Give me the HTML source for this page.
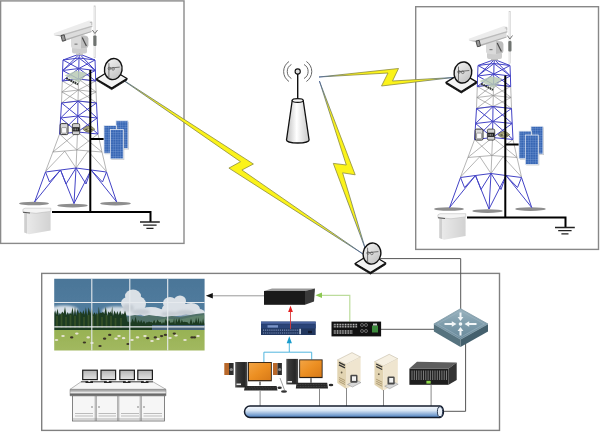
<!DOCTYPE html>
<html><head><meta charset="utf-8">
<style>
html,body{margin:0;padding:0;background:#fff;width:600px;height:432px;overflow:hidden;font-family:"Liberation Sans",sans-serif;}
svg{display:block;position:absolute;left:0;top:0;}
</style></head>
<body>
<svg width="600" height="432" viewBox="0 0 600 432">
<defs>
  <linearGradient id="sky" x1="0" y1="0" x2="0" y2="1">
    <stop offset="0" stop-color="#4a7597"/><stop offset="0.5" stop-color="#527d9f"/><stop offset="1" stop-color="#7496b2"/>
  </linearGradient>
  <linearGradient id="grass" x1="0" y1="0" x2="0" y2="1">
    <stop offset="0" stop-color="#98b254"/><stop offset="1" stop-color="#a4ba62"/>
  </linearGradient>
  <linearGradient id="bus" x1="0" y1="0" x2="0" y2="1">
    <stop offset="0" stop-color="#f8fbff"/><stop offset="0.4" stop-color="#d6e4f3"/><stop offset="1" stop-color="#4a7ebf"/>
  </linearGradient>
  <linearGradient id="cone" x1="0" y1="0" x2="1" y2="0">
    <stop offset="0" stop-color="#bdbdbd"/><stop offset="0.45" stop-color="#ffffff"/><stop offset="1" stop-color="#c8c8c8"/>
  </linearGradient>
  <linearGradient id="swtop" x1="0" y1="0" x2="0" y2="1">
    <stop offset="0" stop-color="#98b2be"/><stop offset="1" stop-color="#66889a"/>
  </linearGradient>
  <linearGradient id="dishg" x1="0" y1="0" x2="1" y2="1">
    <stop offset="0" stop-color="#f6f6f6"/><stop offset="1" stop-color="#bcbcbc"/>
  </linearGradient>
  <linearGradient id="cab" x1="0" y1="0" x2="1" y2="0">
    <stop offset="0" stop-color="#ececec"/><stop offset="1" stop-color="#d2d2d2"/>
  </linearGradient>
  <pattern id="solar" width="2.4" height="2.4" patternUnits="userSpaceOnUse">
    <rect width="2.4" height="2.4" fill="#3766b4"/>
    <path d="M0 0H2.4M0 0V2.4" stroke="#88a8de" stroke-width="0.55"/>
  </pattern>
</defs>

<!-- frames -->
<rect x="0.6" y="0.9" width="183.4" height="242.5" fill="none" stroke="#8a8a8a" stroke-width="1.4"/>
<rect x="415.7" y="6.7" width="182.8" height="242.7" fill="none" stroke="#888" stroke-width="1.4"/>
<rect x="41.7" y="273.4" width="457.8" height="157" fill="none" stroke="#808080" stroke-width="1.4"/>

<g id="tower">
  <!-- foot pads -->
  <ellipse cx="34" cy="203.5" rx="15" ry="1.8" fill="#8e8e8e"/>
  <ellipse cx="72.5" cy="205.6" rx="15.3" ry="1.8" fill="#8e8e8e"/>
  <ellipse cx="115.5" cy="203.6" rx="15.4" ry="1.8" fill="#8e8e8e"/>
  <!-- lattice -->
  <path d="M62.3 81.0L78.5 79.0L95.7 81.0M61.9 92.0L78.3 90.0L96.1 92.0M61.5 103.0L78.0 101.0L96.5 103.0M62.3 81.0L61.9 92.0L61.5 103.0M78.5 79.0L78.3 90.0L78.0 101.0M95.7 81.0L96.1 92.0L96.5 103.0M62.3 81.0L78.3 90.0M78.5 79.0L61.9 92.0M78.5 79.0L96.1 92.0M95.7 81.0L78.3 90.0M61.9 92.0L78.0 101.0M78.3 90.0L61.5 103.0M78.3 90.0L96.5 103.0M96.1 92.0L78.0 101.0M52.9 152.0L76.8 150.0L102.0 152.0M59.6 134.0L52.9 152.0M77.5 132.0L76.8 150.0M98.0 134.0L102.0 152.0M59.6 134.0L76.8 150.0M77.5 132.0L52.9 152.0M77.5 132.0L102.0 152.0M98.0 134.0L76.8 150.0M52.9 152.0L45.5 171.5M76.8 150.0L76 168M102.0 152.0L106.5 171.5M64.8 151.2L45.5 171.5M64.8 151.2L76 168M88 151.2L76 168M88 151.2L106.5 171.5" fill="none" stroke="#8c8c8c" stroke-width="0.65"/>
  <path d="M63.0 60.0L79.0 58.0L95.0 60.0M62.6 70.5L78.8 68.5L95.4 70.5M62.3 81.0L78.5 79.0L95.7 81.0M63.0 60.0L62.6 70.5L62.3 81.0M79.0 58.0L78.8 68.5L78.5 79.0M95.0 60.0L95.4 70.5L95.7 81.0M63.0 60.0L78.8 68.5M79.0 58.0L62.6 70.5M79.0 58.0L95.4 70.5M95.0 60.0L78.8 68.5M62.6 70.5L78.5 79.0M78.8 68.5L62.3 81.0M78.8 68.5L95.7 81.0M95.4 70.5L78.5 79.0M61.5 103.0L78.0 101.0L96.5 103.0M60.6 118.0L77.8 116.0L97.2 118.0M59.6 134.0L77.5 132.0L98.0 134.0M61.5 103.0L60.6 118.0L59.6 134.0M78.0 101.0L77.8 116.0L77.5 132.0M96.5 103.0L97.2 118.0L98.0 134.0M61.5 103.0L77.8 116.0M78.0 101.0L60.6 118.0M78.0 101.0L97.2 118.0M96.5 103.0L77.8 116.0M60.6 118.0L77.5 132.0M77.8 116.0L59.6 134.0M77.8 116.0L98.0 134.0M97.2 118.0L77.5 132.0M63 60L79.5 54L95 60M79.5 54L79 58M79.5 54L62.8 70.5M79.5 54L95.3 70.5M45.5 172.0L60.5 170.0L76.0 168.0L91.0 170.0L106.5 172.0M45.5 172.0L34.6 202.0M60.5 170.0L34.6 202.0M60.5 170.0L74.0 203.5M76.0 168.0L74.0 203.5M91.0 170.0L74.0 203.5M91.0 170.0L116.7 202.0M106.5 172.0L116.7 202.0M45.5 172.0L49.5 182L60.5 170.0M106.5 172.0L102.5 182L91.0 170.0M60.5 170.0L66 184L76.0 168.0M91.0 170.0L86 184L76.0 168.0" fill="none" stroke="#4343c6" stroke-width="1"/>
  <!-- antenna rod -->
  <rect x="94" y="5.8" width="1.6" height="52" fill="#f6f6f6" stroke="#c8c8c8" stroke-width="0.5"/>
  <path d="M92.3 30L94.9 33.5L97.5 30" fill="none" stroke="#777" stroke-width="1"/>
  <rect x="93.3" y="35.5" width="3.2" height="10.5" rx="1" fill="#6f7370"/>
  <!-- camera pan/tilt head -->
  <path d="M72 48.5Q72 46.5 74 46.5H85Q87 46.5 87 48.5V51.5Q87 53.5 85 53.5H74Q72 53.5 72 51.5Z" fill="#cdcdcd"/>
  <path d="M76 53.5H83V55H76Z" fill="#bbb"/>
  <path d="M71 37Q71 35 73 35L81 34.4L86.5 35.8Q88.3 36.5 88.3 38.5V45.5Q88.3 47.5 86.3 48L80 49L73 48.3Q71 48 71 46Z" fill="#dadada"/>
  <path d="M81 35.5L86.5 36.2Q88.3 36.8 88.3 38.6V45.5Q88.3 47.3 86.5 47.8L81 48.6Z" fill="#bdbdbd"/>
  <path d="M82.2 37.6L86.4 46" stroke="#4a4a4a" stroke-width="1.2"/>
  <rect x="74.5" y="43.6" width="3" height="1.1" fill="#777"/>
  <!-- camera housing -->
  <path d="M60 35.5L91.5 26L91.5 32L63 41.5Z" fill="#dcdcdc"/>
  <path d="M62.5 40L91.5 31L91.5 32L63 41.5Z" fill="#b0b0b0"/>
  <path d="M53.8 33.2L89 20.6L92.3 21.2L92.3 27L60.5 36.6L53.8 35Z" fill="#ececec"/>
  <path d="M53.8 35L60.5 36.6L92.3 27L92.3 25.6L60.3 35Z" fill="#bcbcbc"/>
  <path d="M61 35.6L64.2 34.8L65.5 40.4L62.4 41.2Z" fill="#9a9a9a" stroke="#333" stroke-width="0.8"/>
  <path d="M89.8 22.5L91.8 22.2L91.8 25" stroke="#999" stroke-width="0.6" fill="none"/>
  <!-- router -->
  <g opacity="0.85">
  <path d="M64.6 75.4L75.8 70.8L86.7 72.8L78 82.2Z" fill="#b9cbb6"/>
  <path d="M86.7 72.8L78 82.2L78 84L86.7 74.6Z" fill="#a8b4aa"/>
  </g>
  <path d="M66.2 78.2L78 84.4" stroke="#2e3430" stroke-width="2" stroke-dasharray="1.8 0.6"/>
  <!-- devices near C -->
  <rect x="60.2" y="123.6" width="7.8" height="11" rx="1.4" fill="#d8d8d8" stroke="#222" stroke-width="0.9"/>
  <rect x="61.6" y="127.6" width="5" height="5.6" rx="0.6" fill="#fafafa" stroke="#555" stroke-width="0.5"/>
  <rect x="72.4" y="123.6" width="7.3" height="11" rx="1.4" fill="#cfcfcf" stroke="#333" stroke-width="0.8"/>
  <rect x="72.6" y="127.2" width="6.9" height="4.2" fill="#1e1e1e"/>
  <path d="M74 128.4V130.4M75.6 128.4V130.4M77.2 128.4V130.4" stroke="#ddd" stroke-width="0.6"/>
  <path d="M82.8 129.2Q88.8 122.6 94.8 129.2Q88.8 135.2 82.8 129.2Z" fill="#a4a27a" stroke="#4e4c3a" stroke-width="0.6"/>
  <path d="M84.5 129.4Q88.8 127.4 93.2 129.4Q88.8 131.6 84.5 129.4Z" fill="#55533c"/>
  <ellipse cx="88.8" cy="129.4" rx="1.5" ry="0.8" fill="#c8c6a0"/>
  <!-- pole & ground -->
  <path d="M90.3 70V212M90.3 139H104.5M52 212H150.5V222" fill="none" stroke="#000" stroke-width="2"/>
  <path d="M140 222H159.8M143.2 225.2H156.6M146.4 228.3H153.5" fill="none" stroke="#222" stroke-width="1.3"/>
  <!-- solar panels -->
  <rect x="117" y="121.8" width="12" height="27.7" fill="#9a9a9a" opacity="0.55"/><rect x="116" y="120.8" width="12" height="27.7" fill="url(#solar)" stroke="#dfe6f2" stroke-width="0.8"/>
  <rect x="105" y="126.6" width="12.4" height="27.6" fill="#9a9a9a" opacity="0.55"/><rect x="104" y="125.6" width="12.4" height="27.6" fill="url(#solar)" stroke="#dfe6f2" stroke-width="0.8"/>
  <rect x="111.3" y="130.5" width="13" height="29.4" fill="#9a9a9a" opacity="0.55"/><rect x="110.3" y="129.5" width="13" height="29.4" fill="url(#solar)" stroke="#dfe6f2" stroke-width="0.8"/>
  <!-- cabinet -->
  <path d="M24.3 212.5L50.6 211.5L50.6 230.6L29 234.3L24.3 232.5Z" fill="url(#cab)"/>
  <path d="M24.3 212.5L27 213V233.6L24.3 232.5Z" fill="#cfcfcf"/>
  <path d="M22.9 209.3L25 208.2L50.8 208.2L50.8 211.3L36 213.3L22.9 212Z" fill="#f4f4f4" stroke="#b4b4b4" stroke-width="0.5"/>
  <path d="M23 212.2L30 213" fill="none" stroke="#555" stroke-width="1.1"/>
</g>

<use href="#tower" transform="translate(415,5.5)"/>

<defs>
<linearGradient id="bg1" gradientUnits="userSpaceOnUse" x1="117" y1="76" x2="363" y2="254">
<stop offset="0" stop-color="#4a6494"/><stop offset="0.3" stop-color="#8e8c3a"/><stop offset="0.7" stop-color="#8e8c3a"/><stop offset="1" stop-color="#4a6494"/></linearGradient>
<linearGradient id="bg2" gradientUnits="userSpaceOnUse" x1="319" y1="81" x2="365" y2="249">
<stop offset="0" stop-color="#4a6494"/><stop offset="0.3" stop-color="#8e8c3a"/><stop offset="0.6" stop-color="#8e8c3a"/><stop offset="1" stop-color="#4a6494"/></linearGradient>
<linearGradient id="bg3" gradientUnits="userSpaceOnUse" x1="319" y1="77" x2="453" y2="77">
<stop offset="0" stop-color="#4a6494"/><stop offset="0.25" stop-color="#8e8c3a"/><stop offset="0.7" stop-color="#8e8c3a"/><stop offset="1" stop-color="#4a6494"/></linearGradient>
</defs>
<g stroke-linejoin="miter">
<path d="M117 76L253.4 164L241.9 170L363 254L228.9 168.1L240.5 161.7Z" fill="#fbf31a" stroke="url(#bg1)" stroke-width="0.8"/>
<path d="M319.4 81L355.2 174.8L342.6 172.8L365.4 249L333.3 163.4L346.3 165Z" fill="#fbf31a" stroke="url(#bg2)" stroke-width="0.8"/>
<path d="M319 77L398.5 68.5L392.5 81L453 77.5L381.5 86L388 73Z" fill="#fbf31a" stroke="url(#bg3)" stroke-width="0.8"/>
</g>
<g transform="translate(111.7,78.7)">
  <path d="M-15.3 1.6L0 10.9L15.3 1.3L15.3 -0.2L0 9.4L-15.3 0.3Z" fill="#111" stroke="#111" stroke-width="0.8" stroke-linejoin="round"/>
  <path d="M-15.3 0.3L0 -9.2L15.3 -0.2L0 9.4Z" fill="#f4f4f4" stroke="#111" stroke-width="1.3" stroke-linejoin="round"/>
  <ellipse cx="1.6" cy="-9.6" rx="8.8" ry="10.6" transform="rotate(10 1.6 -9.6)" fill="url(#dishg)" stroke="#111" stroke-width="1.4"/>
  <path d="M-2.8 -15.5V0.3M-2.8 -10.5L8 -11.6" stroke="#444" stroke-width="0.7" fill="none"/>
  <circle cx="-2.3" cy="-10.2" r="1.3" fill="none" stroke="#444" stroke-width="0.6"/>
  <circle cx="1.4" cy="-9.8" r="1.3" fill="none" stroke="#444" stroke-width="0.6"/>
</g>
<g transform="translate(461.3,82.1)">
  <path d="M-15.3 1.6L0 10.9L15.3 1.3L15.3 -0.2L0 9.4L-15.3 0.3Z" fill="#111" stroke="#111" stroke-width="0.8" stroke-linejoin="round"/>
  <path d="M-15.3 0.3L0 -9.2L15.3 -0.2L0 9.4Z" fill="#f4f4f4" stroke="#111" stroke-width="1.3" stroke-linejoin="round"/>
  <ellipse cx="1.6" cy="-9.6" rx="8.8" ry="10.6" transform="rotate(10 1.6 -9.6)" fill="url(#dishg)" stroke="#111" stroke-width="1.4"/>
  <path d="M-2.8 -15.5V0.3M-2.8 -10.5L8 -11.6" stroke="#444" stroke-width="0.7" fill="none"/>
  <circle cx="-2.3" cy="-10.2" r="1.3" fill="none" stroke="#444" stroke-width="0.6"/>
  <circle cx="1.4" cy="-9.8" r="1.3" fill="none" stroke="#444" stroke-width="0.6"/>
</g>
<g transform="translate(370.4,263.2)">
  <path d="M-15.3 1.6L0 10.9L15.3 1.3L15.3 -0.2L0 9.4L-15.3 0.3Z" fill="#111" stroke="#111" stroke-width="0.8" stroke-linejoin="round"/>
  <path d="M-15.3 0.3L0 -9.2L15.3 -0.2L0 9.4Z" fill="#f4f4f4" stroke="#111" stroke-width="1.3" stroke-linejoin="round"/>
  <ellipse cx="1.6" cy="-9.6" rx="8.8" ry="10.6" transform="rotate(10 1.6 -9.6)" fill="url(#dishg)" stroke="#111" stroke-width="1.4"/>
  <path d="M-2.8 -15.5V0.3M-2.8 -10.5L8 -11.6" stroke="#444" stroke-width="0.7" fill="none"/>
  <circle cx="-2.3" cy="-10.2" r="1.3" fill="none" stroke="#444" stroke-width="0.6"/>
  <circle cx="1.4" cy="-9.8" r="1.3" fill="none" stroke="#444" stroke-width="0.6"/>
</g>

<g fill="none" stroke="#555" stroke-width="0.9">
<path d="M291.4 64.5A8 8 0 0 0 291.4 78.5M289 61.5A12 12 0 0 0 289 81.5M304 64.5A8 8 0 0 1 304 78.5M306.4 61.5A12 12 0 0 1 306.4 81.5"/>
</g>
<path d="M297.7 73.5V98" stroke="#111" stroke-width="1.4"/>
<circle cx="297.7" cy="71.5" r="2.6" fill="#ddd" stroke="#111" stroke-width="1.1"/>
<path d="M292.2 100.5L286.5 140A11.3 3 0 0 0 309.1 140L303.2 100.5Z" fill="url(#cone)" stroke="#111" stroke-width="1.3"/>
<ellipse cx="297.7" cy="100.5" rx="5.5" ry="1.9" fill="#f4f4f4" stroke="#111" stroke-width="1.1"/>


<clipPath id="wallclip"><rect x="54.2" y="278.8" width="150.4" height="71.8"/></clipPath>
<filter id="soft" x="-5%" y="-5%" width="110%" height="110%"><feGaussianBlur stdDeviation="0.55"/></filter>
<filter id="soft2" x="-20%" y="-20%" width="140%" height="140%"><feGaussianBlur stdDeviation="1.2"/></filter>
<filter id="soft3" x="-10%" y="-10%" width="120%" height="120%"><feGaussianBlur stdDeviation="0.7"/></filter>
<g clip-path="url(#wallclip)"><g filter="url(#soft)">
<rect x="50" y="275" width="160" height="80" fill="url(#sky)"/>
<!-- haze near horizon -->
<g filter="url(#soft2)"><ellipse cx="64" cy="310" rx="14" ry="4.5" fill="#e4eaef" opacity="0.9"/>
<ellipse cx="117" cy="311" rx="15" ry="4.5" fill="#e4eaef" opacity="0.85"/></g>
<!-- clouds -->
<g fill="#e2e6ea" opacity="0.95" filter="url(#soft3)">
<ellipse cx="133" cy="296" rx="8" ry="6.5"/>
<ellipse cx="128" cy="303" rx="7" ry="6"/>
<ellipse cx="137" cy="304" rx="9" ry="8"/>
<ellipse cx="132" cy="311" rx="12" ry="5"/>
<ellipse cx="151" cy="312" rx="12" ry="5"/>
<ellipse cx="170" cy="303" rx="7" ry="6"/>
<ellipse cx="180" cy="301" rx="6" ry="5.5"/>
<ellipse cx="176" cy="309" rx="14" ry="7"/>
<ellipse cx="191" cy="309" rx="9" ry="6"/>
<ellipse cx="199" cy="313" rx="6" ry="4"/>
<ellipse cx="165" cy="313" rx="12" ry="4"/>
</g>
<g fill="#c2c9d0" opacity="0.85" filter="url(#soft2)">
<ellipse cx="128" cy="308" rx="6" ry="4"/>
<ellipse cx="141" cy="312" rx="9" ry="3"/>
<ellipse cx="170" cy="314" rx="9" ry="2.5"/>
<ellipse cx="185" cy="313" rx="10" ry="3"/>
</g>
<!-- mountains -->
<path d="M120 321L127 316.5L135 315L142 316.5L149 315L156 316L164 317L172 316L180 317L188 315.5L196 314L204.6 313V331H120Z" fill="#4f7068"/>
<path d="M150 322L165 318.5L180 319.5L195 316L204.6 315V331H150Z" fill="#5e826c"/>
<!-- trees -->
<path d="M54.2 313.0L55.2 310.2L56.2 314.8L57.5 308.6L58.8 315.5L59.8 313.0L60.8 314.4L62.3 311.4L63.7 313.5L65.0 306.8L66.4 315.2L67.7 311.9L69.0 314.8L70.1 312.4L71.1 314.4L72.5 307.3L73.9 315.8L75.0 306.6L76.1 315.8L77.6 309.1L79.1 313.7L80.7 311.3L82.2 313.9L83.4 310.1L84.7 314.8L85.9 307.2L87.2 315.8L88.7 307.2L90.2 313.5L91.6 307.8L93.1 314.7L94.5 312.2L95.9 314.7L96.9 312.3L97.9 316.0L98.8 306.5L99.7 313.5L100.7 312.4L101.7 313.1L103.0 311.7L104.3 314.0L105.8 306.8L107.3 316.0L108.4 311.2L109.4 313.1L110.4 311.2L111.3 313.5L112.2 306.3L113.0 315.9L114.5 310.6L116.1 314.6L117.4 311.0L118.7 314.9L120.2 310.4L121.8 315.2L122.8 312.9L123.8 314.6L125.0 310.4L126.2 314.7L127.2 321.0L128.1 322.2L129.5 321.2L131.0 322.9L132.5 318.6L134.1 322.2L135.6 316.6L137.1 323.1L138.5 320.0L140.0 322.8L141.2 319.7L142.4 322.9L144.0 320.8L145.6 323.8L146.8 321.7L148.0 322.6L149.0 321.3L150.1 322.3L151.3 321.8L152.5 323.1L154.2 319.8L155.8 323.6L157.5 319.4L159.2 322.3L160.6 321.7L162.0 324.1L163.0 321.7L164.1 323.6L165.7 319.0L167.4 322.7L169.0 319.9L170.6 323.0L171.9 322.2L173.1 322.4L174.1 318.2L175.0 324.5L176.2 318.3L177.5 322.6L179.1 317.7L180.7 323.3L181.8 319.4L183.0 322.2L184.4 321.7L185.9 322.1L187.6 322.2L189.3 324.2L191.0 318.6L192.7 323.9L193.8 321.2L194.8 323.3L196.1 317.5L197.4 322.9L198.5 317.2L199.6 324.0L200.8 320.6L202.0 324.0L203.1 318.3L204.2 324.0L205.8 321.0L207.4 324.2L206 324V330.5H54.2Z" fill="#1f3b22"/>
<path d="M57 316V328M61.5 314V328M66 317V328M70.5 315V328M75 316V328M79.5 313V328M84 317V328M88.5 315V328M93 316V328M97.5 314V328M102 317V328M106.5 315V328M111 316V328M115.5 318V328M121 318V328" stroke="#3f5e2e" stroke-width="1.6" opacity="0.7"/>
<!-- lake -->
<rect x="152" y="325" width="54" height="5" fill="#4d6c88" opacity="0.85"/>
<!-- grass -->
<rect x="50" y="330" width="160" height="26" fill="url(#grass)"/>
<g fill="#e8e4d4"><ellipse cx="56.5" cy="340" rx="1.8" ry="1.1" /><ellipse cx="63" cy="336" rx="1.8" ry="1.1" /><ellipse cx="76.8" cy="333.6" rx="1.8" ry="1.1" /><ellipse cx="88.2" cy="337.4" rx="1.8" ry="1.1" /><ellipse cx="92" cy="343" rx="1.8" ry="1.1" /><ellipse cx="116" cy="338.7" rx="1.8" ry="1.1" /><ellipse cx="119" cy="336" rx="1.8" ry="1.1" /><ellipse cx="123.6" cy="338.2" rx="1.8" ry="1.1" /><ellipse cx="132" cy="340" rx="1.8" ry="1.1" /><ellipse cx="137.5" cy="337.4" rx="1.8" ry="1.1" /><ellipse cx="145" cy="336" rx="1.8" ry="1.1" /><ellipse cx="152" cy="341" rx="1.8" ry="1.1" /><ellipse cx="158" cy="339" rx="1.8" ry="1.1" /><ellipse cx="170" cy="338" rx="1.8" ry="1.1" /><ellipse cx="176" cy="335.5" rx="1.8" ry="1.1" /><ellipse cx="185" cy="340" rx="1.8" ry="1.1" /><ellipse cx="198" cy="336" rx="1.8" ry="1.1" /></g>
<g fill="#3c3428"><ellipse cx="71.7" cy="337.4" rx="1.7" ry="1.1" /><ellipse cx="84.4" cy="342.5" rx="1.7" ry="1.1" /><ellipse cx="104.6" cy="338.7" rx="1.7" ry="1.1" /><ellipse cx="109.7" cy="334.9" rx="1.7" ry="1.1" /><ellipse cx="147.7" cy="338.2" rx="1.7" ry="1.1" /><ellipse cx="155.3" cy="337.4" rx="1.7" ry="1.1" /><ellipse cx="161.6" cy="336.1" rx="1.7" ry="1.1" /><ellipse cx="165.4" cy="334.9" rx="1.7" ry="1.1" /><ellipse cx="174.3" cy="333.6" rx="1.7" ry="1.1" /><ellipse cx="192" cy="337.4" rx="1.7" ry="1.1" /><ellipse cx="194.5" cy="337.4" rx="1.7" ry="1.1" /><ellipse cx="128" cy="344" rx="1.7" ry="1.1" /><ellipse cx="100" cy="346" rx="1.7" ry="1.1" /></g>
</g></g>
<path d="M91.8 278.8V350.6M129.8 278.8V350.6M167.7 278.8V350.6M54.2 302.5H204.6M54.2 326.9H204.6" stroke="#e6eaee" stroke-width="1.1"/>


<!-- connection lines -->
<path d="M380 258.6H460.7V310M381 329.3H434M465.6 340V411.3H443" fill="none" stroke="#555" stroke-width="1"/>
<path d="M264 295.8H211" stroke="#999" stroke-width="1"/>
<path d="M205.8 295.8L212.8 293V298.6Z" fill="#111"/>
<path d="M349.8 321.5V295.3H321" fill="none" stroke="#bcdc9c" stroke-width="1.2"/>
<path d="M315.4 295.3L322 292.6V298Z" fill="#8cc852"/>
<path d="M290.5 305.8L288.1 311.9H292.9Z" fill="#e41e1e"/>
<path d="M289.3 352V342.5M263.9 362V352.2H311.7V359.4" fill="none" stroke="#48b2dc" stroke-width="0.95"/>
<path d="M289.3 336.2L286.7 343.2H291.9Z" fill="#1a9ccc"/>
<!-- video controller -->
<path d="M264 291L272 288.4L315 288.4L305 291Z" fill="#9a9a9a"/>
<rect x="264" y="291" width="41" height="13.8" fill="#1a1a1a"/>
<path d="M305 291L315 288.4L314 301.5L305 304.8Z" fill="#3a3a3a"/>
<!-- encoder -->
<rect x="261" y="321.6" width="54.7" height="13.4" fill="#22375f"/>
<rect x="261" y="321.6" width="54.7" height="2.2" fill="#4a64a0"/>
<rect x="261" y="324.2" width="54.7" height="4.2" fill="#2a4478"/>
<rect x="267.5" y="325.2" width="10.5" height="2.4" fill="#7a94c8"/>
<path d="M263 330.2H299M263 333H299" stroke="#7f94c0" stroke-width="1.2" stroke-dasharray="1 0.9"/>
<rect x="299.4" y="328.8" width="1.4" height="5.4" fill="#dde6f4"/>
<rect x="308" y="330.8" width="4" height="2.4" fill="#111a30"/>
<path d="M290.5 329V311.5" stroke="#d83a3a" stroke-width="0.9"/>
<!-- matrix -->
<rect x="331.5" y="321.6" width="49.6" height="14.8" fill="#111"/>
<path d="M333.8 325.6H357.5M333.8 332H352.5" stroke="#d0d0d0" stroke-width="3.6" stroke-dasharray="0.9 0.7"/><path d="M333.5 325.6H358M333.5 332H353" stroke="#111" stroke-width="0.6"/>
<circle cx="362" cy="325" r="1.5" fill="none" stroke="#bbb" stroke-width="0.5"/>
<circle cx="366" cy="325" r="1.5" fill="none" stroke="#bbb" stroke-width="0.5"/>
<circle cx="362" cy="331" r="1.5" fill="none" stroke="#bbb" stroke-width="0.5"/>
<circle cx="366" cy="331" r="1.5" fill="none" stroke="#bbb" stroke-width="0.5"/>
<rect x="372" y="325.5" width="6" height="7" fill="#3c8a3c"/>
<rect x="373" y="323.5" width="4" height="2" fill="#ccc"/>
<!-- switch -->
<path d="M433.9 324L433.9 331.5L460.5 347L460.5 339.3Z" fill="#56737f"/>
<path d="M460.5 339.3L460.5 347L488 331.5L488 324Z" fill="#44606d"/>
<path d="M433.9 324L460.5 308.7L488 324L460.5 339.3Z" fill="url(#swtop)" stroke="#7d98a5" stroke-width="0.8" stroke-linejoin="round"/>
<path d="M437.5 324L460.5 310.8L484.5 324L460.5 337.4Z" fill="none" stroke="#9fb6c2" stroke-width="0.7" opacity="0.8"/>
<g fill="#f2f6f8" filter="url(#soft)">
<path d="M460.5 321L463.4 317H461.5V312.5H459.5V317H457.6Z"/>
<path d="M460.5 327L463.4 331H461.5V335.5H459.5V331H457.6Z"/>
<path d="M456.5 324L451.8 321.2V323H444.5V325H451.8V326.8Z"/>
<path d="M464.5 324L469.2 321.2V323H476.5V325H469.2V326.8Z"/>
<circle cx="460.5" cy="324" r="1.8"/>
</g>
<!-- pcs -->
<defs>
<linearGradient id="orng" x1="0" y1="0" x2="1" y2="1"><stop offset="0" stop-color="#f3a444"/><stop offset="0.5" stop-color="#ec8f22"/><stop offset="1" stop-color="#d87a18"/></linearGradient>
<linearGradient id="twr" x1="0" y1="0" x2="1" y2="0"><stop offset="0" stop-color="#5a5a5a"/><stop offset="0.2" stop-color="#3a3a3a"/><stop offset="0.75" stop-color="#262626"/><stop offset="1" stop-color="#4a4a4a"/></linearGradient>
</defs>
<g>
<rect x="224.3" y="363" width="4.8" height="12" fill="#b8682a"/>
<rect x="229" y="363" width="4.6" height="12" fill="#2e2e2e"/>
<circle cx="231.3" cy="369.5" r="1.6" fill="#8a8a8a"/>
<rect x="235.2" y="362" width="12.2" height="25.5" fill="url(#twr)"/>
<rect x="236.5" y="383.5" width="4.5" height="1.6" fill="#e8e8e8"/>
<rect x="248" y="362" width="23.8" height="19.3" fill="#2a1e14"/>
<rect x="248.9" y="362.9" width="22" height="17.2" fill="url(#orng)"/>
<rect x="259" y="381.3" width="2" height="4" fill="#888"/>
<path d="M245 385.9H276.6L277.5 390.4H244Z" fill="#262626"/>
<path d="M246 387.2H276M245.5 389H276.5" stroke="#4a4a4a" stroke-width="0.7" stroke-dasharray="1 0.6"/>
<rect x="273" y="363" width="4.6" height="12" fill="#b8682a"/>
<rect x="277.5" y="363" width="4.4" height="12" fill="#2e2e2e"/>
<circle cx="279.7" cy="369.5" r="1.6" fill="#8a8a8a"/>
<ellipse cx="279.6" cy="387.8" rx="2.2" ry="1.2" fill="#2a2a2a"/>
<path d="M280 378L284.5 390" stroke="#777" stroke-width="0.7"/>
<ellipse cx="284" cy="391.5" rx="3" ry="1.2" fill="#333"/>
</g>
<g>
<rect x="286.3" y="358.9" width="11.8" height="25.5" fill="url(#twr)"/>
<rect x="287.5" y="381" width="4.5" height="1.6" fill="#e8e8e8"/>
<rect x="299.2" y="359.4" width="23.4" height="18.7" fill="#2a1e14"/>
<rect x="300.1" y="360.3" width="21.6" height="16.6" fill="url(#orng)"/>
<rect x="310" y="378.1" width="2" height="4.7" fill="#888"/>
<path d="M296.5 382.8H327.2L328 388.5H295.8Z" fill="#262626"/>
<path d="M297 384.5H327M296.8 386.5H327.5" stroke="#4a4a4a" stroke-width="0.7" stroke-dasharray="1 0.6"/>
<ellipse cx="331" cy="385" rx="2.3" ry="1.3" fill="#2a2a2a"/>
</g>
<!-- servers -->
<g transform="translate(0,0)">
<path d="M337.3 360L352 352.6L360.6 357L346 364.5Z" fill="#f6f0e2" stroke="#a89c80" stroke-width="0.4"/>
<path d="M337.3 360L346 364.5V389L337.3 383Z" fill="#e2d4b2"/>
<path d="M346 364.5L360.6 357V381L346 389Z" fill="#efe5cf"/>
<path d="M339 362.3L345 365.3M339 364.8L345 367.8" stroke="#333" stroke-width="1.3"/>
<circle cx="341.6" cy="372.5" r="0.9" fill="#6a604a"/>
<path d="M339 377.5L345 380.5M339 379.5L345 382.5M339 381.5L345 384.5" stroke="#a8946c" stroke-width="0.9"/>
<path d="M347.5 384.5L356 380L361 382.5L352.5 387Z" fill="#d8d8d8" stroke="#777" stroke-width="0.4"/>
<rect x="350.3" y="374.8" width="7.2" height="8" rx="1.2" fill="#4a4a4a"/>
<rect x="352" y="376.3" width="4" height="4.6" fill="#f2f2f2"/>
</g>
<g transform="translate(37.2,1.7)">
<path d="M337.3 360L352 352.6L360.6 357L346 364.5Z" fill="#f6f0e2" stroke="#a89c80" stroke-width="0.4"/>
<path d="M337.3 360L346 364.5V389L337.3 383Z" fill="#e2d4b2"/>
<path d="M346 364.5L360.6 357V381L346 389Z" fill="#efe5cf"/>
<path d="M339 362.3L345 365.3M339 364.8L345 367.8" stroke="#333" stroke-width="1.3"/>
<circle cx="341.6" cy="372.5" r="0.9" fill="#6a604a"/>
<path d="M339 377.5L345 380.5M339 379.5L345 382.5M339 381.5L345 384.5" stroke="#a8946c" stroke-width="0.9"/>
<path d="M347.5 384.5L356 380L361 382.5L352.5 387Z" fill="#d8d8d8" stroke="#777" stroke-width="0.4"/>
<rect x="350.3" y="374.8" width="7.2" height="8" rx="1.2" fill="#4a4a4a"/>
<rect x="352" y="376.3" width="4" height="4.6" fill="#f2f2f2"/>
</g>
<!-- storage -->
<path d="M409.4 368.6L417 361.7L456.7 362.5L448.6 368.6Z" fill="#5e5e5e"/>
<rect x="409.4" y="368.6" width="39.2" height="16.2" fill="#1e1e1e"/>
<path d="M448.6 368.6L456.7 362.5V380L448.6 384.8Z" fill="#333"/>
<path d="M412 370.5V380M414.3 370.5V380M416.6 370.5V380M418.9 370.5V380M421.2 370.5V380M423.5 370.5V380M425.8 370.5V380M428.1 370.5V380M430.4 370.5V380M432.7 370.5V380M435 370.5V380M437.3 370.5V380M439.6 370.5V380M441.9 370.5V380M444.2 370.5V380M446.5 370.5V380" stroke="#7a7a7a" stroke-width="1"/>
<rect x="426.4" y="380.8" width="4.3" height="2.8" fill="#8ed84a"/>
<!-- drops to bus -->
<path d="M260.1 390.5V406M319.5 388V406M346.5 388V406M383.5 390V406M431.1 384.8V406" stroke="#888" stroke-width="1"/>
<!-- bus -->
<path d="M250 406H440A3.4 5.7 0 0 1 440 417.4H250A5.5 5.7 0 0 1 250 406Z" fill="url(#bus)" stroke="#141c2c" stroke-width="1.5"/>
<ellipse cx="440" cy="411.7" rx="2.6" ry="5" fill="#e9f0f8" stroke="#1c2a44" stroke-width="0.9"/>
<!-- console -->
<defs><linearGradient id="scr" x1="0" y1="0" x2="0" y2="1"><stop offset="0" stop-color="#b4b4b4"/><stop offset="1" stop-color="#e4e4e4"/></linearGradient></defs>
<path d="M81 381.8H153L166 389.4H70Z" fill="#f6f6f6" stroke="#888" stroke-width="0.6"/>
<path d="M81 381.8H153" stroke="#444" stroke-width="0.9"/>
<g stroke="#1e1e1e" stroke-width="1.2" fill="url(#scr)">
<rect x="82.7" y="370.2" width="14.6" height="9.4"/>
<rect x="101" y="370.2" width="14.6" height="9.4"/>
<rect x="119.8" y="370.2" width="14.6" height="9.4"/>
<rect x="137.8" y="370.2" width="14.6" height="9.4"/>
</g>
<g fill="#222"><rect x="85.5" y="381.2" width="7.5" height="1.8"/><rect x="104" y="381.2" width="7.5" height="1.8"/><rect x="123" y="381.2" width="7.5" height="1.8"/><rect x="141" y="381.2" width="7.5" height="1.8"/></g>
<g fill="#fff"><rect x="88.3" y="380.4" width="2" height="1.4"/><rect x="106.8" y="380.4" width="2" height="1.4"/><rect x="125.8" y="380.4" width="2" height="1.4"/><rect x="143.8" y="380.4" width="2" height="1.4"/></g>
<rect x="70" y="389.4" width="96" height="2.4" fill="#aaa"/>
<rect x="70" y="391.8" width="96" height="1.6" fill="#e6e6e6"/>
<rect x="70" y="393.4" width="96" height="2.4" fill="#6a6a6a"/>
<path d="M70 389.4H166V395.8H70Z" fill="none" stroke="#777" stroke-width="0.5"/>
<rect x="72.4" y="395.8" width="92" height="25.2" fill="#f6f6f6" stroke="#666" stroke-width="0.8"/>
<path d="M95.2 395.8V421M96.4 395.8V421M117.6 395.8V421M118.8 395.8V421M140.2 395.8V421M141.4 395.8V421" stroke="#777" stroke-width="0.6"/>
<path d="M75 413.5H93M98.5 413.5H116M121 413.5H139M143.5 413.5H162M75 416H93M98.5 416H116M121 416H139M143.5 416H162" stroke="#bbb" stroke-width="1"/>
<path d="M72.4 419H164.4" stroke="#888" stroke-width="0.6"/>
<g fill="#777"><circle cx="92" cy="407" r="0.8"/><circle cx="99" cy="407" r="0.8"/><circle cx="138" cy="407" r="0.8"/><circle cx="144" cy="407" r="0.8"/></g>


</svg>
</body></html>
